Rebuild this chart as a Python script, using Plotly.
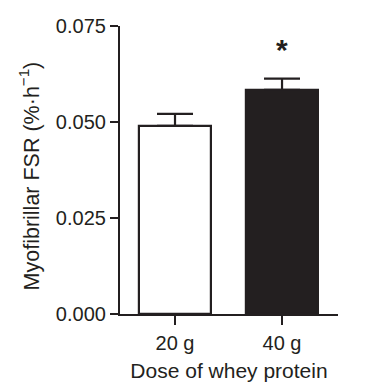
import plotly.graph_objects as go

categories = ["20 g", "40 g"]
fsr_mean = [0.0490, 0.0584]
fsr_sem = [0.0031, 0.0029]
fill_colors = ["#ffffff", "#231f20"]
y_ticks = [0.0, 0.025, 0.050, 0.075]
y_tick_labels = ["0.000", "0.025", "0.050", "0.075"]
sig_marks = ["", "*"]
sig_y = [None, 0.0689]

ink = "#231f20"
font_family = "Liberation Sans, Arial, sans-serif"

fig = go.Figure()
fig.add_trace(go.Bar(
    x=[0, 1],
    y=fsr_mean,
    width=0.665,
    marker=dict(color=fill_colors, line=dict(color=ink, width=2.2)),
    error_y=dict(type="data", array=fsr_sem, arrayminus=[0, 0], symmetric=False,
                 color=ink, thickness=2.2, width=18),
    showlegend=False,
))

for i, m in enumerate(sig_marks):
    if m:
        fig.add_annotation(x=i, y=sig_y[i], text="<b>" + m + "</b>", showarrow=False,
                           yanchor="middle",
                           font=dict(size=30, color=ink, family=font_family))

# y-axis title as a rotated annotation (placed like the reference)
fig.add_annotation(
    xref="paper", yref="paper", x=-0.413, y=0.481,
    text="Myofibrillar FSR (%·h<sup>−1</sup>)", textangle=-90, showarrow=False,
    xanchor="center", yanchor="middle",
    font=dict(size=21.5, color=ink, family=font_family),
)

fig.update_layout(
    width=380, height=391,
    margin=dict(l=120, r=42, t=26, b=75),
    paper_bgcolor="white", plot_bgcolor="white",
    font=dict(family=font_family, color=ink, size=20),
    bargap=0,
)
fig.update_xaxes(
    range=[-0.514, 1.523],
    tickmode="array", tickvals=[0, 1], ticktext=categories,
    showline=True, linecolor=ink, linewidth=2.2,
    ticks="outside", ticklen=9, tickwidth=2.2, tickcolor=ink,
    showgrid=False, zeroline=False,
    tickfont=dict(size=20), ticklabelstandoff=1,
    title=dict(text="Dose of whey protein", font=dict(size=21), standoff=10),
)
fig.update_yaxes(
    range=[0, 0.075],
    tickmode="array", tickvals=y_ticks, ticktext=y_tick_labels,
    showline=True, linecolor=ink, linewidth=2.2,
    ticks="outside", ticklen=8, tickwidth=2.2, tickcolor=ink,
    showgrid=False, zeroline=False,
    tickfont=dict(size=20),
)

fig.write_html("out.html")
